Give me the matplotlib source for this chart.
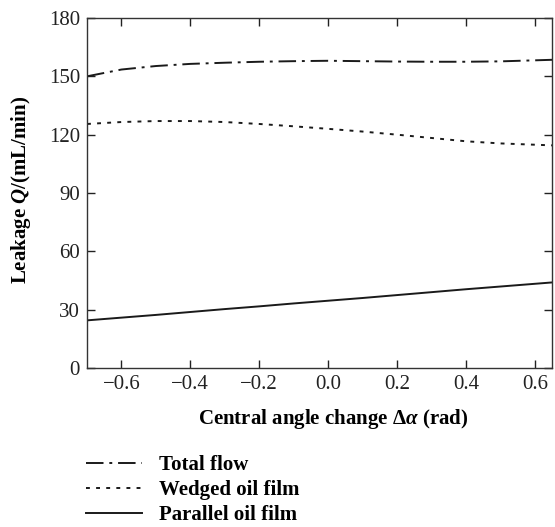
import matplotlib
matplotlib.use("Agg")
import matplotlib.pyplot as plt
from matplotlib.lines import Line2D

plt.rcParams['font.family'] = ['Liberation Serif', 'DejaVu Serif']
plt.rcParams['mathtext.fontset'] = 'custom'
plt.rcParams['mathtext.rm'] = 'Liberation Serif:bold'
plt.rcParams['mathtext.it'] = 'Liberation Serif:italic:bold'

# data
angle = [-0.70, -0.60, -0.50, -0.40, -0.30, -0.20, -0.10, 0.00, 0.10, 0.20, 0.30, 0.40, 0.50, 0.65]
total_flow = [150.0, 153.5, 155.3, 156.4, 157.0, 157.5, 157.8, 158.0, 157.8, 157.6, 157.5, 157.5, 157.7, 158.5]
wedged = [125.5, 126.5, 127.0, 127.0, 126.5, 125.5, 124.3, 123.0, 121.6, 120.0, 118.3, 116.6, 115.5, 114.5]
parallel = [24.5, 25.9, 27.3, 28.8, 30.3, 31.7, 33.2, 34.6, 36.0, 37.5, 39.0, 40.5, 41.9, 44.0]

labels = ['Total flow', 'Wedged oil film', 'Parallel oil film']
styles = [(0, (9, 3, 1.5, 3)), (0, (2, 3.2)), '-']

fig = plt.figure(figsize=(5.55, 5.27), dpi=100)
ax = fig.add_axes([87 / 555, 1 - 368 / 527, 465 / 555, 350 / 527])

ax.plot(angle, total_flow, color='#1a1a1a', lw=1.4, linestyle=styles[0])
ax.plot(angle, wedged, color='#1a1a1a', lw=1.4, linestyle=styles[1])
ax.plot(angle, parallel, color='#1a1a1a', lw=1.4, linestyle=styles[2])

ax.set_xlim(-0.7, 0.65)
ax.set_ylim(0, 180)
ax.set_xticks([-0.6, -0.4, -0.2, 0.0, 0.2, 0.4, 0.6])
ax.set_xticklabels(['\u22120.6', '\u22120.4', '\u22120.2', '0.0', '0.2', '0.4', '0.6'])
ax.set_yticks([0, 30, 60, 90, 120, 150, 180])
ax.tick_params(direction='in', top=True, right=True, length=6, width=1,
               labelsize=15, colors='#222222', pad=5)
for s in ax.spines.values():
    s.set_linewidth(1.0)
    s.set_color('#333333')

ax.set_xlabel('Central angle change \u0394$\\mathit{\\alpha}$ (rad)',
              fontsize=15, fontweight='bold')
ax.xaxis.set_label_coords(0.53, -0.112)
ax.set_ylabel('Leakage $\\mathit{Q}$/(mL/min)', fontsize=15, fontweight='bold')
ax.yaxis.set_label_coords(-0.116, 0.51)

handles = [Line2D([], [], color='#1a1a1a', lw=1.4, linestyle=st) for st in styles]
fig.legend(handles, labels, loc='upper left', bbox_to_anchor=(86 / 555, 1 - 455 / 527),
           frameon=False, prop={'weight': 'bold', 'size': 15},
           handlelength=2.7, handletextpad=0.8, labelspacing=0.25, borderaxespad=0,
           borderpad=0)

fig.savefig('out.png', dpi=100)
